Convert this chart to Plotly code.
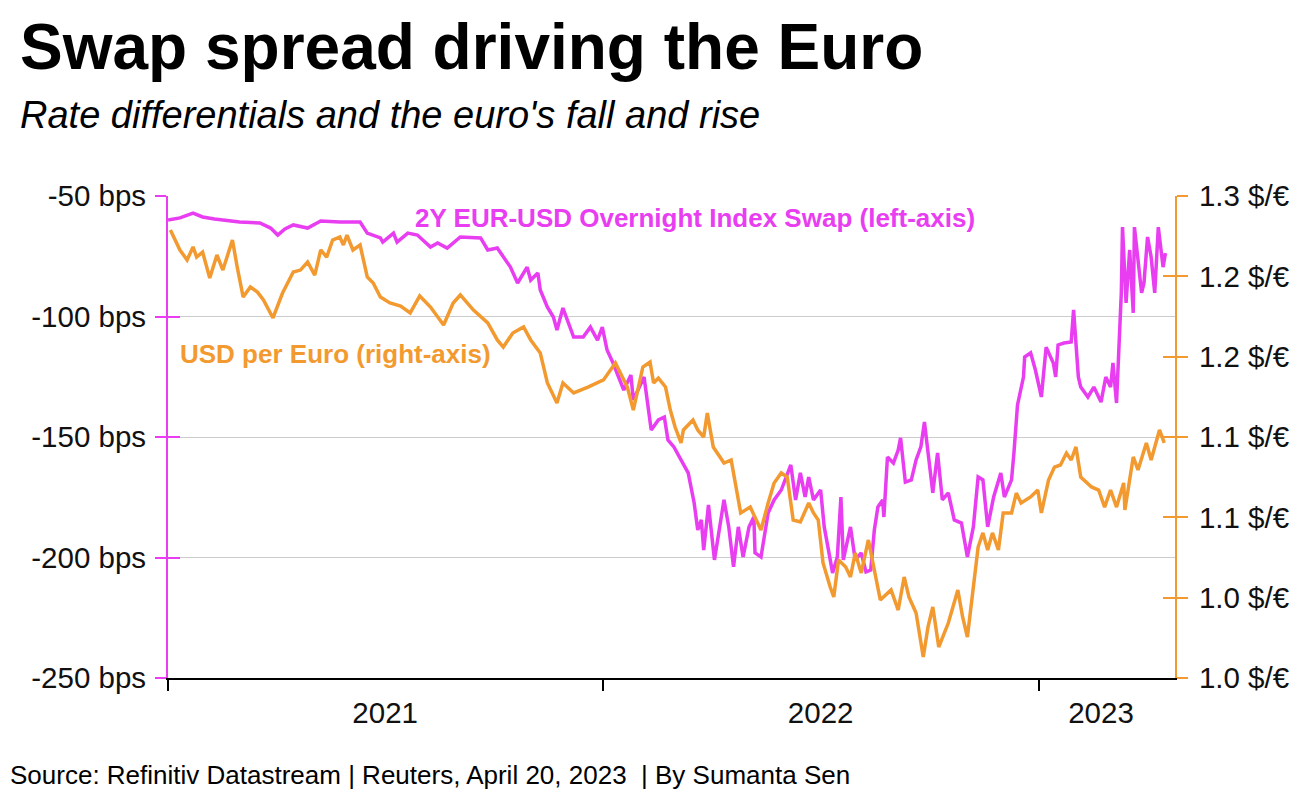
import plotly.graph_objects as go

# 2Y EUR-USD OIS spread (bps), left axis
swap_dates = [
    "2021-01-01", "2021-01-11", "2021-01-22", "2021-01-30", "2021-02-09", "2021-02-19", "2021-03-02",
    "2021-03-19", "2021-03-28", "2021-04-03", "2021-04-09", "2021-04-16", "2021-04-28", "2021-05-09",
    "2021-05-25", "2021-06-11", "2021-06-17", "2021-06-28", "2021-06-30", "2021-07-09", "2021-07-12",
    "2021-07-21", "2021-07-29", "2021-08-09", "2021-08-15", "2021-08-23", "2021-09-03", "2021-09-20",
    "2021-09-26", "2021-10-04", "2021-10-09", "2021-10-15", "2021-10-21", "2021-10-29", "2021-11-01",
    "2021-11-07", "2021-11-09", "2021-11-15", "2021-11-20", "2021-11-23", "2021-11-28", "2021-12-07",
    "2021-12-15", "2021-12-21", "2021-12-27", "2021-12-31", "2022-01-04", "2022-01-09", "2022-01-18",
    "2022-01-24", "2022-01-26", "2022-02-04", "2022-02-10", "2022-02-16", "2022-02-21", "2022-02-24",
    "2022-03-01", "2022-03-07", "2022-03-13", "2022-03-18", "2022-03-21", "2022-03-24", "2022-03-26",
    "2022-03-30", "2022-04-04", "2022-04-12", "2022-04-16", "2022-04-20", "2022-04-24", "2022-04-28",
    "2022-05-03", "2022-05-07", "2022-05-08", "2022-05-13", "2022-05-19", "2022-05-24", "2022-05-30",
    "2022-06-07", "2022-06-11", "2022-06-15", "2022-06-19", "2022-06-22", "2022-06-26", "2022-07-02",
    "2022-07-05", "2022-07-09", "2022-07-12", "2022-07-16", "2022-07-19", "2022-07-21", "2022-07-27",
    "2022-07-31", "2022-08-05", "2022-08-09", "2022-08-13", "2022-08-16", "2022-08-19", "2022-08-23",
    "2022-08-24", "2022-08-27", "2022-09-01", "2022-09-05", "2022-09-07", "2022-09-11", "2022-09-16",
    "2022-09-20", "2022-09-24", "2022-09-27", "2022-09-30", "2022-10-04", "2022-10-08", "2022-10-12",
    "2022-10-17", "2022-10-22", "2022-10-28", "2022-11-02", "2022-11-07", "2022-11-11", "2022-11-15",
    "2022-11-19", "2022-11-24", "2022-11-30", "2022-12-03", "2022-12-09", "2022-12-11", "2022-12-14",
    "2022-12-19", "2022-12-20", "2022-12-25", "2022-12-29", "2023-01-03", "2023-01-07", "2023-01-13",
    "2023-01-15", "2023-01-17", "2023-01-22", "2023-01-28", "2023-01-30", "2023-02-03", "2023-02-05",
    "2023-02-11", "2023-02-16", "2023-02-22", "2023-02-26", "2023-03-02", "2023-03-04", "2023-03-07",
    "2023-03-11", "2023-03-12", "2023-03-15", "2023-03-18", "2023-03-21", "2023-03-22", "2023-03-25",
    "2023-03-28", "2023-03-30", "2023-04-02", "2023-04-05", "2023-04-08", "2023-04-11", "2023-04-15",
    "2023-04-17",
]
swap_bps = [
    -60.0, -59.1, -57.1, -58.7, -59.5, -60.0, -60.8,
    -61.2, -63.3, -66.2, -63.7, -62.0, -63.3, -60.4,
    -60.8, -60.8, -65.4, -67.4, -69.1, -65.4, -69.1,
    -65.4, -66.2, -71.2, -69.5, -71.6, -67.0, -67.4,
    -72.4, -71.6, -75.3, -79.5, -86.1, -79.5, -84.9,
    -82.0, -89.0, -96.1, -100.2, -105.6, -96.5, -108.5,
    -108.5, -104.4, -109.8, -104.4, -113.9, -119.3, -130.5,
    -124.3, -134.6, -125.1, -147.1, -142.9, -141.7, -151.2,
    -154.1, -159.5, -164.9, -177.4, -188.6, -184.4, -196.9,
    -178.2, -201.0, -176.1, -187.3, -203.9, -187.3, -199.8,
    -187.3, -183.2, -198.1, -199.8, -181.5, -176.1, -172.0,
    -161.6, -176.1, -164.9, -174.9, -166.6, -176.1, -172.0,
    -187.3, -198.1, -206.4, -199.8, -174.9, -201.0, -187.3,
    -201.0, -198.1, -206.0, -205.2, -188.6, -179.0, -176.1,
    -183.2, -158.3, -160.8, -155.4, -150.4, -168.7, -167.8,
    -159.5, -154.1, -143.8, -156.6, -173.2, -156.6, -176.1,
    -173.2, -184.4, -185.7, -199.8, -187.3, -166.6, -167.8,
    -187.3, -174.9, -164.9, -174.9, -167.8, -156.6, -136.7,
    -125.1, -116.8, -115.1, -122.2, -133.4, -112.7, -119.3,
    -125.1, -111.8, -111.0, -110.6, -97.3, -125.1, -129.3,
    -133.4, -129.3, -135.5, -125.1, -129.3, -119.3, -135.9,
    -90.2, -62.9, -94.4, -72.4, -98.5, -62.9, -75.3,
    -90.2, -86.1, -67.0, -75.3, -90.2, -62.9, -79.5,
    -73.7,
]

# USD per euro, right axis
fx_dates = [
    "2021-01-03", "2021-01-11", "2021-01-17", "2021-01-22", "2021-01-25", "2021-01-30", "2021-02-05",
    "2021-02-11", "2021-02-16", "2021-02-24", "2021-02-28", "2021-03-05", "2021-03-11", "2021-03-17",
    "2021-03-22", "2021-03-30", "2021-04-07", "2021-04-16", "2021-04-22", "2021-04-28", "2021-05-04",
    "2021-05-09", "2021-05-14", "2021-05-19", "2021-05-25", "2021-05-28", "2021-05-31", "2021-06-05",
    "2021-06-11", "2021-06-17", "2021-06-22", "2021-06-28", "2021-07-06", "2021-07-15", "2021-07-23",
    "2021-07-31", "2021-08-09", "2021-08-20", "2021-08-28", "2021-09-03", "2021-09-14", "2021-09-26",
    "2021-10-04", "2021-10-09", "2021-10-17", "2021-10-26", "2021-11-01", "2021-11-09", "2021-11-15",
    "2021-11-23", "2021-11-28", "2021-12-07", "2021-12-19", "2022-01-01", "2022-01-11", "2022-01-21",
    "2022-01-26", "2022-02-03", "2022-02-09", "2022-02-12", "2022-02-16", "2022-02-22", "2022-02-26",
    "2022-03-02", "2022-03-07", "2022-03-09", "2022-03-17", "2022-03-21", "2022-03-26", "2022-03-29",
    "2022-04-03", "2022-04-12", "2022-04-18", "2022-04-26", "2022-05-04", "2022-05-13", "2022-05-19",
    "2022-05-24", "2022-05-30", "2022-06-04", "2022-06-09", "2022-06-15", "2022-06-22", "2022-06-26",
    "2022-06-30", "2022-07-04", "2022-07-10", "2022-07-13", "2022-07-17", "2022-07-23", "2022-07-27",
    "2022-07-31", "2022-08-05", "2022-08-11", "2022-08-16", "2022-08-21", "2022-08-30", "2022-09-05",
    "2022-09-10", "2022-09-14", "2022-09-20", "2022-09-26", "2022-09-30", "2022-10-04", "2022-10-09",
    "2022-10-17", "2022-10-25", "2022-10-29", "2022-11-02", "2022-11-07", "2022-11-11", "2022-11-15",
    "2022-11-19", "2022-11-23", "2022-11-28", "2022-12-02", "2022-12-09", "2022-12-13", "2022-12-17",
    "2022-12-25", "2022-12-31", "2023-01-03", "2023-01-09", "2023-01-14", "2023-01-19", "2023-01-24",
    "2023-01-28", "2023-02-01", "2023-02-05", "2023-02-14", "2023-02-20", "2023-02-25", "2023-03-02",
    "2023-03-07", "2023-03-13", "2023-03-14", "2023-03-21", "2023-03-25", "2023-04-01", "2023-04-05",
    "2023-04-12", "2023-04-16",
]
usd_per_eur = [
    1.2288, 1.2164, 1.2102, 1.2183, 1.2120, 1.2151, 1.1990,
    1.2133, 1.2039, 1.2226, 1.2058, 1.1871, 1.1934, 1.1902,
    1.1853, 1.1741, 1.1896, 1.2027, 1.2039, 1.2089, 1.2008,
    1.2164, 1.2120, 1.2226, 1.2245, 1.2195, 1.2257, 1.2164,
    1.2195, 1.1996, 1.1959, 1.1871, 1.1834, 1.1815, 1.1772,
    1.1878, 1.1809, 1.1697, 1.1834, 1.1884, 1.1790, 1.1710,
    1.1604, 1.1560, 1.1647, 1.1685, 1.1604, 1.1523, 1.1336,
    1.1212, 1.1336, 1.1274, 1.1311, 1.1355, 1.1461, 1.1311,
    1.1168, 1.1436, 1.1467, 1.1336, 1.1367, 1.1311, 1.1168,
    1.1062, 1.0963, 1.1044, 1.1106, 1.1044, 1.1000, 1.1149,
    1.0938, 1.0838, 1.0857, 1.0527, 1.0564, 1.0421, 1.0589,
    1.0714, 1.0776, 1.0751, 1.0483, 1.0471, 1.0589, 1.0527,
    1.0483, 1.0216, 1.0066, 1.0004, 1.0234, 1.0191, 1.0129,
    1.0278, 1.0154, 1.0359, 1.0172, 0.9986, 1.0048, 0.9923,
    1.0129, 1.0004, 0.9905, 0.9631, 0.9818, 0.9942, 0.9693,
    0.9842, 1.0048, 0.9880, 0.9755, 1.0066, 1.0315, 1.0403,
    1.0297, 1.0403, 1.0297, 1.0527, 1.0527, 1.0651, 1.0589,
    1.0627, 1.0670, 1.0527, 1.0732, 1.0813, 1.0826, 1.0900,
    1.0857, 1.0938, 1.0751, 1.0689, 1.0670, 1.0564, 1.0670,
    1.0564, 1.0714, 1.0546, 1.0876, 1.0795, 1.0963, 1.0857,
    1.1044, 1.0963,
]

left_tick_values = [-250, -200, -150, -100, -50]
left_tick_labels = ["-250 bps", "-200 bps", "-150 bps", "-100 bps", "-50 bps"]
right_tick_values = [0.95, 1.0, 1.05, 1.1, 1.15, 1.2, 1.25]
right_tick_labels = ["1.0 $/€", "1.0 $/€", "1.1 $/€", "1.1 $/€", "1.2 $/€", "1.2 $/€", "1.3 $/€"]
year_label_dates = ["2021-07-02", "2022-07-02", "2023-02-22"]
year_labels = ["2021", "2022", "2023"]
year_tick_dates = ["2021-01-01", "2022-01-01", "2023-01-01"]
x_range = ["2021-01-01", "2023-04-25"]
left_range = [-250, -50]
right_range = [0.95, 1.25]

MAGENTA = "#E83DF0"
ORANGE = "#F29A30"
FONT = "Liberation Sans, Arial, sans-serif"

fig = go.Figure()
fig.add_trace(go.Scatter(x=swap_dates, y=swap_bps, mode="lines",
                         line=dict(color=MAGENTA, width=3.5), yaxis="y", showlegend=False))
fig.add_trace(go.Scatter(x=fx_dates, y=usd_per_eur, mode="lines",
                         line=dict(color=ORANGE, width=3.5), yaxis="y2", showlegend=False))
# empty traces to host the inner tick axes
fig.add_trace(go.Scatter(x=[], y=[], yaxis="y3", showlegend=False, hoverinfo="skip"))
fig.add_trace(go.Scatter(x=[], y=[], yaxis="y4", showlegend=False, hoverinfo="skip"))

tickfont = dict(family=FONT, size=29.5, color="#111111")

fig.update_layout(
    width=1306, height=788,
    margin=dict(l=160, r=139, t=188, b=118),
    paper_bgcolor="white", plot_bgcolor="white",
    font=dict(family=FONT),
    xaxis=dict(
        range=x_range, type="date",
        tickmode="array", tickvals=year_label_dates, ticktext=year_labels,
        ticks="", tickfont=tickfont, ticklabelstandoff=8,
        showgrid=False, zeroline=False,
        showline=True, linecolor="black", linewidth=2,
        minor=dict(tickmode="array", tickvals=year_tick_dates, ticks="outside",
                   ticklen=11, tickwidth=1.5, tickcolor="black", showgrid=False),
    ),
    yaxis=dict(
        range=left_range, tickmode="array", tickvals=left_tick_values, ticktext=left_tick_labels,
        ticks="outside", ticklen=11, tickwidth=2, tickcolor=MAGENTA,
        showline=True, linecolor=MAGENTA, linewidth=2,
        showgrid=True, gridcolor="#cccccc", gridwidth=1, zeroline=False,
        tickfont=tickfont, ticklabelstandoff=3,
    ),
    yaxis2=dict(
        range=right_range, overlaying="y", side="right",
        tickmode="array", tickvals=right_tick_values, ticktext=right_tick_labels,
        ticks="outside", ticklen=11, tickwidth=2, tickcolor=ORANGE,
        showline=True, linecolor=ORANGE, linewidth=2,
        showgrid=False, zeroline=False, tickfont=tickfont, ticklabelstandoff=5,
    ),
    yaxis3=dict(
        range=left_range, overlaying="y", side="left",
        tickmode="array", tickvals=left_tick_values, ticks="inside", ticklen=12,
        tickwidth=2, tickcolor=MAGENTA, showticklabels=False,
        showline=False, showgrid=False, zeroline=False,
    ),
    yaxis4=dict(
        range=right_range, overlaying="y", side="right",
        tickmode="array", tickvals=right_tick_values, ticks="inside", ticklen=12,
        tickwidth=2, tickcolor=ORANGE, showticklabels=False,
        showline=False, showgrid=False, zeroline=False,
    ),
    annotations=[
        dict(text="<b>Swap spread driving the Euro</b>", xref="paper", yref="paper",
             x=-0.149, y=1.309, xanchor="left", yanchor="middle", showarrow=False,
             font=dict(family=FONT, size=64, color="black")),
        dict(text="<i>Rate differentials and the euro's fall and rise</i>", xref="paper", yref="paper",
             x=-0.149, y=1.168, xanchor="left", yanchor="middle", showarrow=False,
             font=dict(family=FONT, size=38, color="black")),
        dict(text="Source: Refinitiv Datastream | Reuters, April 20, 2023  | By Sumanta Sen",
             xref="paper", yref="paper", x=-0.159, y=-0.201, xanchor="left", yanchor="middle",
             showarrow=False, font=dict(family=FONT, size=26, color="black")),
        dict(text="<b>2Y EUR-USD Overnight Index Swap (left-axis)</b>", xref="paper", yref="paper",
             x=0.523, y=0.954, xanchor="center", yanchor="middle", showarrow=False,
             font=dict(family=FONT, size=26, color=MAGENTA)),
        dict(text="<b>USD per Euro (right-axis)</b>", xref="paper", yref="paper",
             x=0.166, y=0.672, xanchor="center", yanchor="middle", showarrow=False,
             font=dict(family=FONT, size=26, color=ORANGE)),
    ],
)

fig.write_html("out.html")
